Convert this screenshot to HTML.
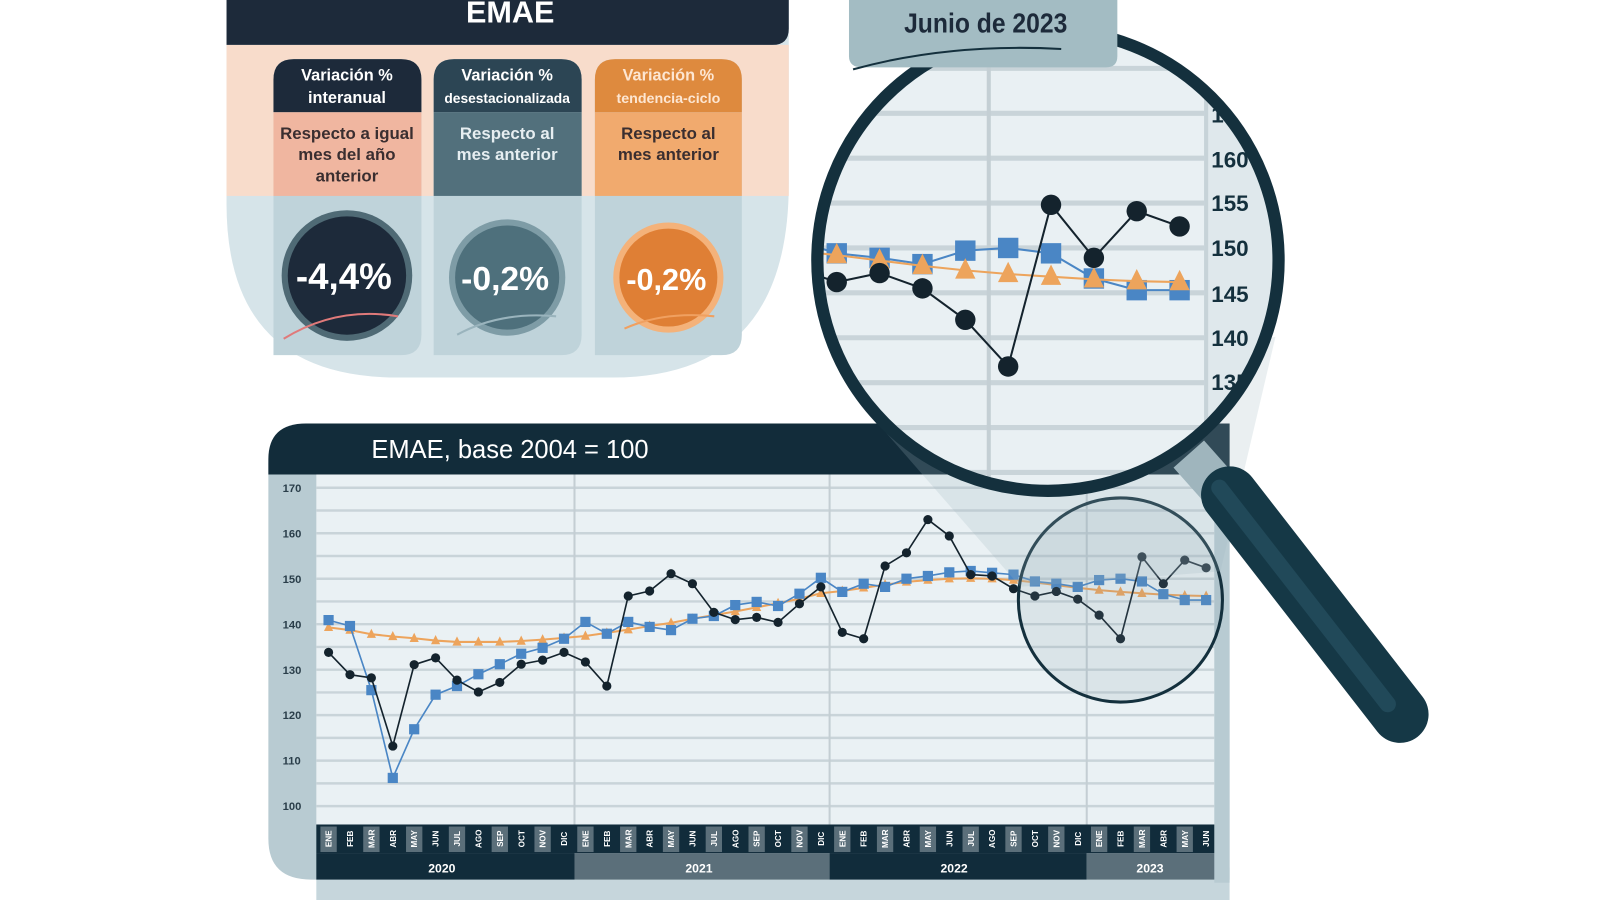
<!DOCTYPE html>
<html><head><meta charset="utf-8"><style>
html,body{margin:0;padding:0;background:#fff;}
svg{display:block;}
text{font-family:"Liberation Sans",sans-serif;}
.n{font-family:"Liberation Sans Narrow","Liberation Sans",sans-serif;}
</style></head><body>
<svg id="s" width="1600" height="900" viewBox="0 0 1568 882" xmlns="http://www.w3.org/2000/svg">
<defs>
<clipPath id="lens"><circle cx="1027" cy="255" r="226"/></clipPath>
</defs>

<!-- TOP PANEL -->
<path d="M222 0 H773 V180 Q773 370 600 370 H390 Q222 370 222 200 Z" fill="#d6e4e9"/>
<rect x="222" y="44" width="551" height="148" fill="#f8dccb"/>
<path d="M222 0 H773 V28 Q773 44 757 44 H222 Z" fill="#1d2a3a"/>
<text x="500" y="22" text-anchor="middle" font-size="30" font-weight="bold" fill="#fff" class="n">EMAE</text>

<!-- card 1 -->
<path d="M268 348 V78 Q268 58 288 58 H393 Q413 58 413 78 V328 Q413 348 393 348 Z" fill="#bfd3da"/>
<path d="M268 110 V78 Q268 58 288 58 H393 Q413 58 413 78 V110 Z" fill="#1d2a3a"/>
<rect x="268" y="110" width="145" height="82" fill="#f0b6a0"/>
<text x="340" y="79" text-anchor="middle" font-size="16" font-weight="bold" fill="#fff" class="n">Variación %</text>
<text x="340" y="101" text-anchor="middle" font-size="16" font-weight="bold" fill="#fff" class="n">interanual</text>
<text x="340" y="136" text-anchor="middle" font-size="16.5" font-weight="bold" fill="#3a2e30" class="n">Respecto a igual</text>
<text x="340" y="157" text-anchor="middle" font-size="16.5" font-weight="bold" fill="#3a2e30" class="n">mes del año</text>
<text x="340" y="178" text-anchor="middle" font-size="16.5" font-weight="bold" fill="#3a2e30" class="n">anterior</text>
<circle cx="340" cy="270" r="64" fill="#4f6a75"/>
<circle cx="340" cy="270" r="58" fill="#1d2a3a"/>
<path d="M278 332 Q330 300 390 310" stroke="#e07a7a" stroke-width="2" fill="none"/>
<text x="337" y="283" text-anchor="middle" font-size="36" font-weight="bold" fill="#fff">-4,4%</text>

<!-- card 2 -->
<path d="M425 348 V78 Q425 58 445 58 H550 Q570 58 570 78 V328 Q570 348 550 348 Z" fill="#bfd3da"/>
<path d="M425 110 V78 Q425 58 445 58 H550 Q570 58 570 78 V110 Z" fill="#2c4554"/>
<rect x="425" y="110" width="145" height="82" fill="#52707c"/>
<text x="497" y="79" text-anchor="middle" font-size="16" font-weight="bold" fill="#fff" class="n">Variación %</text>
<text x="497" y="101" text-anchor="middle" font-size="13.5" font-weight="bold" fill="#fff" class="n">desestacionalizada</text>
<text x="497" y="136" text-anchor="middle" font-size="16.5" font-weight="bold" fill="#e6eef1" class="n">Respecto al</text>
<text x="497" y="157" text-anchor="middle" font-size="16.5" font-weight="bold" fill="#e6eef1" class="n">mes anterior</text>
<circle cx="497" cy="272" r="57" fill="#7e9ca6"/>
<circle cx="497" cy="272" r="51" fill="#4e707c"/>
<path d="M448 328 Q490 305 545 310" stroke="#9ab4bd" stroke-width="2" fill="none"/>
<text x="495" y="284" text-anchor="middle" font-size="33" font-weight="bold" fill="#fff">-0,2%</text>

<!-- card 3 -->
<path d="M583 348 V78 Q583 58 603 58 H707 Q727 58 727 78 V328 Q727 348 707 348 Z" fill="#bfd3da"/>
<path d="M583 110 V78 Q583 58 603 58 H707 Q727 58 727 78 V110 Z" fill="#de8a3e"/>
<rect x="583" y="110" width="144" height="82" fill="#f1aa6e"/>
<text x="655" y="79" text-anchor="middle" font-size="16" font-weight="bold" fill="#fde6d2" class="n">Variación %</text>
<text x="655" y="101" text-anchor="middle" font-size="14" font-weight="bold" fill="#fde6d2" class="n">tendencia-ciclo</text>
<text x="655" y="136" text-anchor="middle" font-size="16.5" font-weight="bold" fill="#3a2e30" class="n">Respecto al</text>
<text x="655" y="157" text-anchor="middle" font-size="16.5" font-weight="bold" fill="#3a2e30" class="n">mes anterior</text>
<circle cx="655" cy="272" r="54" fill="#f4b27a"/>
<circle cx="655" cy="272" r="48" fill="#df7f35"/>
<path d="M612 322 Q650 305 700 310" stroke="#f0a060" stroke-width="2" fill="none"/>
<text x="653" y="284" text-anchor="middle" font-size="30" font-weight="bold" fill="#fff">-0,2%</text>

<!-- MAIN CHART -->
<rect x="310" y="850" width="895" height="32" fill="#c6d6dc"/>
<path d="M263 455 Q263 415 303 415 H1205 V862 H305 Q263 862 263 822 Z" fill="#b8cbd2"/>
<rect x="1190" y="465" width="15" height="400" fill="#b8cbd2"/>
<path d="M263 465 V450 Q263 415 300 415 H1205 V465 Z" fill="#122c3a"/>
<text x="364" y="449" font-size="25" fill="#fff">EMAE, base 2004 = 100</text>
<rect x="310" y="465" width="880" height="343" fill="#eaf1f4"/>
<g id="grid"></g>
<g id="axis"></g>
<g id="months"></g>
<rect x="310" y="836" width="253" height="26" fill="#112c3b"/>
<rect x="563" y="836" width="250" height="26" fill="#5b6f7a"/>
<rect x="813" y="836" width="252" height="26" fill="#112c3b"/>
<rect x="1065" y="836" width="125" height="26" fill="#5b6f7a"/>
<text x="433" y="855" text-anchor="middle" font-size="12" font-weight="bold" fill="#fff">2020</text>
<text x="685" y="855" text-anchor="middle" font-size="12" font-weight="bold" fill="#fff">2021</text>
<text x="935" y="855" text-anchor="middle" font-size="12" font-weight="bold" fill="#fff">2022</text>
<text x="1127" y="855" text-anchor="middle" font-size="12" font-weight="bold" fill="#fff">2023</text>
<g id="series"></g>

<!-- small circle -->
<circle cx="1098" cy="588" r="100" fill="#7f9aa6" fill-opacity="0.15" stroke="#14303d" stroke-width="3"/>

<!-- cone -->
<polygon points="1000,575 856,410 1250,330 1196,560" fill="#9fb4bd" fill-opacity="0.22"/>

<!-- handle -->
<line x1="1165" y1="445" x2="1205" y2="490" stroke="#9fb5bd" stroke-width="40"/>
<line x1="1205" y1="485" x2="1372" y2="700" stroke="#153846" stroke-width="56" stroke-linecap="round"/>
<line x1="1195" y1="478" x2="1360" y2="690" stroke="#2a5566" stroke-width="16" stroke-linecap="round" opacity="0.6"/>

<!-- lens -->
<circle cx="1027" cy="255" r="226" fill="#eef3f5"/>
<g clip-path="url(#lens)">
  <rect x="795" y="25" width="465" height="460" fill="#e9f0f3"/>
  <g id="lgrid"></g>
  <rect x="1180" y="25" width="80" height="460" fill="#dfe8ec"/>
  <line x1="1182" y1="25" x2="1182" y2="485" stroke="#c7d3d8" stroke-width="4"/>
  <line x1="969" y1="25" x2="969" y2="485" stroke="#c4cfd4" stroke-width="4"/>
  <text x="1187" y="164" font-size="22" font-weight="bold" fill="#14303d">160</text>
  <text x="1187" y="207" font-size="22" font-weight="bold" fill="#14303d">155</text>
  <text x="1187" y="251" font-size="22" font-weight="bold" fill="#14303d">150</text>
  <text x="1187" y="296" font-size="22" font-weight="bold" fill="#14303d">145</text>
  <text x="1187" y="339" font-size="22" font-weight="bold" fill="#14303d">140</text>
  <text x="1187" y="382" font-size="22" font-weight="bold" fill="#14303d">135</text>
  <text x="1187" y="120" font-size="22" font-weight="bold" fill="#14303d">165</text>
  <g id="lseries"></g>
</g>
<circle cx="1027" cy="255" r="226" fill="none" stroke="#14303d" stroke-width="12"/>

<!-- Junio tab -->
<path d="M832 0 H1095 V55 Q1095 66 1084 66 H845 Q832 66 832 55 Z" fill="#a3bcc3"/>
<path d="M836 68 Q930 42 1040 48" stroke="#14303d" stroke-width="2" fill="none"/>
<text x="886" y="32" font-size="27" font-weight="bold" fill="#1d2a3a" textLength="160" lengthAdjust="spacingAndGlyphs">Junio de 2023</text>
</svg>
<script>
var NS="http://www.w3.org/2000/svg";
function el(p,t,a,txt){var e=document.createElementNS(NS,t);for(var k in a)e.setAttribute(k,a[k]);if(txt!==undefined)e.textContent=txt;document.getElementById(p).appendChild(e);return e;}
function Y(v){return 478+(170-v)*4.457;}
function X(i){return 322+i*20.976;}
for(var v=100;v<=170;v+=5){el("grid","line",{x1:310,x2:1190,y1:Y(v),y2:Y(v),stroke:"#c9d4d9","stroke-width":2.4});}
for(var v=100;v<=170;v+=10){el("axis","text",{x:277,y:Y(v)+4,"font-size":11,"font-weight":"bold",fill:"#2a3e4a"},String(v));}
[563,813,1065].forEach(function(x){el("grid","line",{x1:x,x2:x,y1:465,y2:808,stroke:"#c4ced3","stroke-width":2});});
var M=["ENE","FEB","MAR","ABR","MAY","JUN","JUL","AGO","SEP","OCT","NOV","DIC"];
el("months","rect",{x:310,y:808,width:880,height:28,fill:"#112c3b"});
for(var i=0;i<42;i++){var x=X(i);
 if(i%2==0)el("months","rect",{x:x-8,y:810,width:16,height:25,fill:"#5b6f7a"});
 el("months","text",{x:0,y:0,"font-size":8,"font-weight":"bold",fill:"#fff","text-anchor":"middle",transform:"translate("+(x+3)+",822) rotate(-90)"},M[i%12]);}
var B=[133.8,128.9,128.2,113.2,131.1,132.6,127.7,125.1,127.2,131.2,132.1,133.8,
131.7,126.4,146.2,147.3,151.1,148.9,142.6,141,141.5,140.4,144.5,148.2,
138.2,136.8,152.8,155.7,163,159.4,150.9,150.6,147.8,146.2,147.2,145.5,
142,136.8,154.8,148.9,154.1,152.4];
var L=[140.9,139.6,125.5,106.2,116.9,124.5,126.4,129,131.2,133.5,134.8,136.8,
140.5,137.9,140.5,139.4,138.7,141.2,141.8,144.2,144.9,144,146.7,150.2,
147.1,148.9,148.2,150,150.6,151.4,151.7,151.3,150.9,149.4,148.9,148.2,
149.7,150,149.4,146.6,145.3,145.3];
var O=[139.3,138.7,137.8,137.3,136.9,136.4,136.1,136.1,136.1,136.3,136.6,137,
137.4,138.1,138.8,139.6,140.3,141.2,142,142.8,143.7,144.6,145.6,146.8,
147.3,148,148.7,149.3,149.7,150,150.1,150,149.7,149.2,148.6,148,
147.5,147.1,146.8,146.5,146.3,146.2];
function series(g,data,xf,yf,col,kind,sz,sw){
 var d=data.map(function(v,i){return xf(i)+","+yf(v);}).join(" ");
 el(g,"polyline",{points:d,fill:"none",stroke:col,"stroke-width":sw});
 data.forEach(function(v,i){var x=xf(i),y=yf(v);
  if(kind=="c")el(g,"circle",{cx:x,cy:y,r:sz,fill:col});
  else if(kind=="s")el(g,"rect",{x:x-sz,y:y-sz,width:2*sz,height:2*sz,fill:col});
  else el(g,"polygon",{points:x+","+(y-sz*1.2)+" "+(x-sz)+","+(y+sz*0.8)+" "+(x+sz)+","+(y+sz*0.8),fill:col});});}
series("series",O,X,Y,"#eda45c","t",4.5,2);
series("series",L,X,Y,"#4a86c5","s",5,1.6);
series("series",B,X,Y,"#14232d","c",4.5,1.6);
function LY(v){return 243+(150-v)*8.8;}
function LX(i){return 988+(i-37)*42;}
for(var v=120;v<=175;v+=5){el("lgrid","line",{x1:795,x2:1182,y1:LY(v),y2:LY(v),stroke:"#c9d4d9","stroke-width":5});}
var off=30;
function sub(a){return a.slice(off);}
function LXs(i){return LX(i+off);}
series("lseries",sub(L),LXs,LY,"#4a86c5","s",10,2);
series("lseries",sub(O),LXs,LY,"#eda45c","t",10,2);
series("lseries",sub(B),LXs,LY,"#14232d","c",10,2);
</script>
</body></html>
